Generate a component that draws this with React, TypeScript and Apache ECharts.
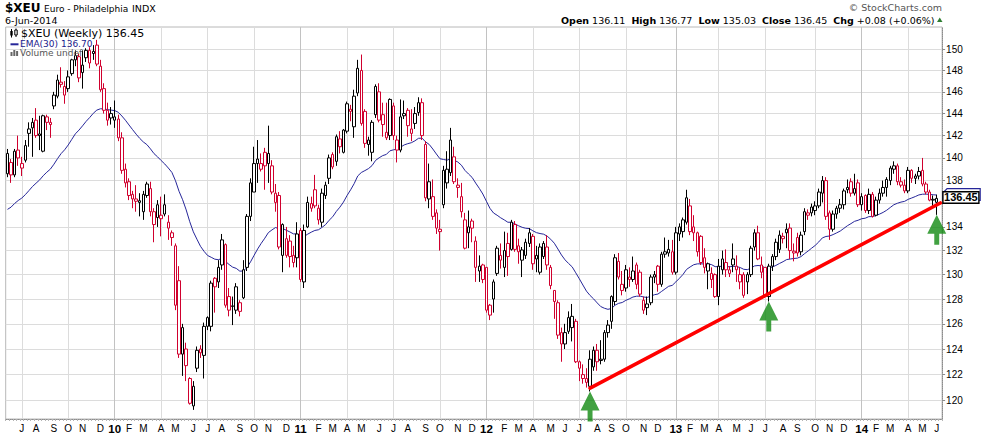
import React, { useEffect, useRef } from "react";
import * as echarts from "echarts";

// ---------- data ----------
const FIRST_WEEK = "2009-06-12"; // week-ending date of the first weekly bar
const symbolName = "$XEU";
const titleText = "Euro - Philadelphia";
const exchangeText = "INDX";

const opens = [
  138.6, 139.6, 138.5, 140.7, 139.1, 139.8, 142.6, 143.2, 143.4, 142.0,
  140.6, 143.7, 143.2, 144.7, 145.6, 146.7, 146.5, 146.3, 147.7, 149.0,
  149.3, 147.8, 149.9, 149.9, 149.8, 150.4, 148.4, 146.3, 144.3, 144.0,
  143.4, 143.5, 141.8, 139.0, 137.9, 136.8, 136.4, 136.1, 135.3, 136.7,
  137.3, 135.3, 134.8, 134.7, 135.9, 134.4, 133.5, 132.4, 129.5, 123.6,
  124.0, 121.7, 119.6, 122.5, 124.0, 123.5, 125.8, 125.8, 129.7, 129.4,
  130.8, 132.5, 128.2, 127.4, 127.1, 127.7, 128.1, 130.6, 134.9, 137.0,
  139.5, 139.0, 140.5, 139.5, 139.3, 136.1, 136.7, 131.6, 133.0, 132.8,
  131.6, 131.4, 133.7, 129.4, 134.0, 135.6, 137.2, 135.6, 134.4, 136.7,
  138.2, 140.3, 139.7, 141.7, 140.5, 142.4, 144.2, 142.8, 145.9, 148.0,
  144.2, 141.2, 140.5, 143.9, 146.0, 143.9, 142.3, 142.0, 144.7, 140.7,
  140.7, 143.8, 144.3, 142.2, 143.1, 144.1, 145.0, 141.2, 136.4, 136.6,
  135.2, 133.6, 135.9, 137.8, 138.7, 140.1, 137.6, 136.6, 134.6, 133.5,
  134.5, 132.8, 130.3, 130.8, 130.6, 127.5, 128.0, 130.1, 131.2, 130.6,
  132.6, 132.1, 134.2, 132.4, 131.2, 131.6, 132.6, 133.2, 131.6, 130.2,
  131.5, 132.3, 130.6, 128.7, 127.7, 125.3, 124.4, 125.4, 125.7, 126.2,
  123.0, 122.0, 121.7, 121.1, 122.6, 123.9, 123.2, 123.2, 125.3, 126.2,
  127.8, 131.1, 129.2, 128.9, 129.6, 129.6, 130.8, 130.2, 127.9, 127.3,
  127.7, 129.8, 130.7, 129.2, 131.7, 131.8, 131.9, 130.2, 133.4, 133.6,
  134.4, 135.8, 134.0, 133.5, 133.2, 131.4, 130.3, 129.6, 130.0, 128.2,
  130.4, 131.0, 130.4, 130.8, 130.7, 130.0, 130.0, 129.4, 130.0, 132.3,
  133.5, 130.8, 130.6, 128.2, 130.7, 131.5, 132.1, 133.0, 133.5, 133.9,
  131.8, 133.1, 131.9, 133.6, 135.0, 135.2, 135.4, 135.8, 136.9, 138.0,
  135.2, 133.8, 135.1, 135.6, 135.9, 137.2, 137.9, 136.9, 137.8, 135.9,
  136.7, 135.4, 136.8, 135.0, 136.3, 136.9, 137.4, 138.0, 139.0, 139.3,
  137.9, 137.6, 137.1, 138.9, 138.2, 138.4, 138.9, 137.7, 137.0, 136.3,
  136.11,
];

const highs = [
  140.8, 139.9, 140.8, 142.0, 140.1, 141.6, 143.2, 143.6, 144.5, 143.8,
  143.9, 143.9, 143.6, 146.0, 147.6, 148.3, 147.0, 148.0, 149.1, 149.9,
  149.6, 149.9, 150.1, 150.2, 150.4, 150.9, 149.0, 146.8, 145.0, 144.6,
  145.2, 143.9, 142.3, 139.5, 138.2, 137.1, 137.6, 136.9, 137.1, 137.9,
  137.9, 135.6, 136.3, 136.6, 136.8, 135.0, 133.7, 132.6, 130.7, 126.0,
  124.5, 121.8, 121.5, 124.2, 124.3, 126.1, 126.6, 129.5, 129.8, 131.2,
  133.4, 132.6, 128.9, 128.2, 129.3, 127.9, 131.2, 135.1, 138.2, 141.0,
  141.6, 140.4, 140.9, 142.9, 139.8, 137.7, 137.0, 134.3, 134.0, 133.3,
  132.4, 134.4, 133.9, 134.2, 136.6, 136.6, 138.5, 135.9, 137.3, 137.9,
  140.3, 140.5, 142.1, 142.4, 142.6, 145.1, 144.8, 146.2, 149.0, 149.5,
  144.4, 141.9, 143.4, 146.7, 146.8, 145.0, 145.0, 145.4, 145.0, 142.0,
  145.3, 145.2, 144.5, 144.4, 144.6, 145.5, 145.4, 141.5, 139.5, 138.1,
  135.5, 134.6, 139.3, 140.6, 142.7, 141.0, 138.2, 137.8, 135.2, 135.4,
  134.7, 133.2, 131.6, 130.9, 130.6, 127.6, 129.6, 132.4, 132.6, 133.6,
  133.5, 134.6, 134.5, 133.0, 132.3, 133.0, 133.9, 133.4, 132.4, 132.6,
  132.8, 133.3, 130.8, 128.7, 127.9, 125.7, 126.0, 127.0, 127.6, 126.4,
  123.1, 122.8, 122.5, 123.9, 124.2, 124.4, 124.7, 125.5, 126.3, 128.3,
  131.7, 131.8, 130.3, 130.8, 130.6, 131.5, 131.0, 130.4, 128.2, 128.2,
  130.0, 130.3, 130.8, 131.9, 133.1, 132.9, 132.9, 134.0, 134.3, 134.8,
  137.2, 136.4, 135.0, 133.6, 133.3, 132.2, 131.0, 130.6, 130.1, 131.3,
  132.0, 132.1, 130.7, 132.6, 131.6, 130.6, 130.2, 130.2, 132.4, 133.8,
  134.1, 131.5, 130.6, 130.9, 131.7, 133.0, 133.7, 133.5, 134.3, 134.3,
  132.6, 133.5, 133.6, 135.6, 135.5, 136.0, 136.2, 137.3, 138.4, 138.3,
  135.4, 135.4, 135.8, 136.4, 137.3, 138.1, 138.2, 138.6, 138.1, 136.9,
  136.8, 137.3, 137.0, 136.6, 137.3, 138.0, 138.3, 139.3, 139.7, 139.5,
  138.3, 138.1, 139.2, 139.0, 138.6, 139.2, 140.0, 137.9, 137.2, 136.7,
  136.77,
];

const lows = [
  138.3, 137.8, 138.3, 139.3, 138.4, 139.6, 141.0, 140.1, 141.8, 140.7,
  140.5, 142.5, 141.8, 144.4, 145.4, 146.4, 144.9, 146.0, 147.5, 148.4,
  146.9, 146.3, 148.8, 148.2, 149.0, 148.4, 146.0, 144.0, 142.9, 143.0,
  142.7, 141.5, 138.6, 137.4, 136.3, 135.6, 135.3, 134.9, 134.6, 136.5,
  134.9, 132.7, 134.0, 133.2, 134.9, 132.9, 132.4, 127.1, 123.3, 121.9,
  121.5, 119.7, 119.3, 122.2, 123.3, 121.7, 125.5, 125.4, 126.9, 128.9,
  130.4, 127.3, 126.6, 125.9, 126.8, 126.6, 128.0, 130.3, 134.5, 137.0,
  137.8, 138.8, 137.2, 137.8, 136.8, 135.3, 132.1, 130.2, 131.4, 130.6,
  130.6, 130.6, 129.4, 128.9, 133.9, 135.3, 135.6, 134.2, 134.0, 136.4,
  137.7, 139.0, 139.3, 140.4, 140.4, 142.2, 143.3, 141.8, 145.6, 142.9,
  140.9, 140.2, 139.7, 143.6, 143.2, 141.9, 141.6, 141.6, 141.6, 139.6,
  140.5, 143.5, 141.9, 141.5, 142.6, 143.8, 141.6, 136.2, 135.6, 134.6,
  133.4, 132.0, 135.6, 137.3, 138.4, 137.7, 136.5, 134.8, 132.1, 132.2,
  132.7, 129.4, 129.4, 129.3, 126.9, 126.3, 126.9, 129.9, 130.5, 129.8,
  129.9, 132.0, 131.9, 130.9, 129.8, 131.3, 132.3, 130.4, 130.2, 130.0,
  131.3, 130.4, 128.8, 126.4, 124.8, 123.0, 124.0, 125.2, 124.6, 122.9,
  121.5, 121.3, 121.0, 120.7, 122.3, 122.3, 122.8, 123.0, 124.9, 125.6,
  127.5, 129.6, 128.3, 128.6, 129.0, 129.4, 128.8, 128.2, 126.8, 126.7,
  127.5, 129.3, 128.6, 129.0, 131.4, 131.5, 130.0, 130.0, 132.8, 133.1,
  134.2, 133.3, 132.8, 131.5, 130.8, 130.1, 128.8, 128.9, 128.1, 127.5,
  130.0, 129.8, 129.8, 130.2, 129.4, 128.8, 128.1, 128.4, 129.8, 132.0,
  131.2, 129.7, 128.1, 127.8, 130.3, 131.2, 131.8, 132.6, 132.2, 131.3,
  131.1, 131.5, 131.6, 133.3, 134.6, 134.9, 135.0, 135.6, 136.1, 134.6,
  132.9, 133.6, 134.7, 135.2, 135.5, 136.9, 136.6, 136.7, 135.7, 135.4,
  135.2, 135.1, 134.8, 134.9, 136.0, 136.6, 136.6, 137.6, 138.6, 137.6,
  137.4, 136.9, 136.9, 137.8, 137.7, 138.1, 137.5, 136.8, 136.2, 135.8,
  135.03,
];

const closes = [
  140.4, 138.5, 140.6, 140.0, 139.5, 141.1, 142.2, 142.7, 142.0, 142.15,
  143.8, 143.2, 143.0, 145.7, 147.1, 146.9, 145.7, 147.4, 149.0, 149.4,
  147.3, 148.5, 149.2, 148.7, 149.6, 148.6, 146.2, 144.3, 143.4, 143.6,
  143.7, 141.8, 138.9, 137.8, 136.7, 136.4, 136.2, 136.25, 136.8, 137.7,
  135.3, 134.2, 135.9, 135.0, 135.1, 133.9, 133.1, 127.5, 123.6, 125.7,
  122.7, 119.8, 121.1, 123.9, 123.7, 125.8, 126.5, 129.3, 129.0, 130.6,
  132.9, 127.5, 127.1, 127.45, 129.0, 127.0, 130.4, 134.9, 137.8, 139.5,
  139.9, 139.5, 139.3, 140.4, 137.0, 136.9, 132.3, 134.2, 131.6, 131.5,
  131.0, 133.4, 129.6, 133.7, 136.1, 136.0, 135.8, 134.6, 136.9, 137.6,
  140.0, 139.2, 141.9, 141.0, 142.5, 144.9, 144.4, 145.6, 148.2, 143.1,
  141.3, 141.6, 143.2, 146.5, 143.4, 143.0, 141.8, 145.3, 142.0, 141.6,
  143.7, 144.0, 142.9, 142.6, 144.0, 145.0, 142.0, 136.5, 137.9, 134.9,
  133.9, 133.8, 138.9, 139.0, 141.6, 137.9, 137.4, 135.3, 132.2, 134.0,
  133.9, 130.6, 130.7, 129.6, 127.1, 126.7, 129.4, 132.2, 131.6, 132.0,
  131.5, 134.4, 132.1, 131.9, 132.05, 132.7, 133.5, 130.9, 131.3, 132.3,
  132.6, 130.8, 129.1, 127.8, 125.1, 124.4, 125.3, 126.5, 126.6, 123.0,
  122.5, 121.7, 121.4, 123.2, 123.9, 123.0, 123.1, 125.3, 125.9, 128.2,
  131.4, 129.8, 128.7, 130.4, 129.8, 130.3, 129.2, 128.4, 127.1, 127.6,
  129.8, 130.0, 129.2, 131.7, 131.9, 132.1, 130.2, 133.5, 134.0, 134.6,
  136.5, 133.6, 133.5, 131.9, 131.0, 130.6, 130.9, 130.1, 128.2, 130.7,
  131.3, 130.4, 130.1, 131.3, 130.4, 129.4, 128.3, 130.0, 132.2, 133.5,
  131.3, 130.2, 128.2, 130.7, 131.5, 132.7, 133.3, 133.2, 133.8, 132.0,
  131.95, 131.8, 133.3, 135.3, 135.2, 135.7, 135.8, 137.0, 138.0, 134.9,
  133.8, 135.1, 135.6, 135.9, 137.1, 137.4, 136.9, 137.3, 135.9, 136.6,
  135.4, 136.8, 134.9, 136.3, 136.9, 137.4, 138.1, 139.1, 139.3, 137.9,
  137.6, 137.1, 138.9, 138.2, 138.4, 138.8, 137.7, 137.0, 136.3, 136.37,
  136.45,
];

const yTickValues = [120, 122, 124, 126, 128, 130, 132, 134, 136, 138, 140, 142, 144, 146, 148, 150];
const yRange = [118.61, 152.14];
const monthInitials = ["J", "F", "M", "A", "M", "J", "J", "A", "S", "O", "N", "D"];
const monthShort = ["Jan", "Feb", "Mar", "Apr", "May", "Jun", "Jul", "Aug", "Sep", "Oct", "Nov", "Dec"];
const emaPeriod = 30;
const emaFirstValue = 135.5; // EMA level read at the first bar
const emaLegendValue = "136.70";
const trendStart = { index: 163, value: 120.96 };
const trendEnd = { index: 261, value: 136.05 };
const arrowWeeks = [163, 213, 260];

// ---------- styles ----------
const RED = "#d0002e";
const BLACK = "#000000";
const NAVY = "#262699";
const GREEN = "#118a11";
const DEJAVU = '"DejaVu Sans", Verdana, sans-serif';
const LIB = '"Liberation Sans", Arial, sans-serif';
const W = 981;
const H = 435;
const GRID = { left: 5.7, top: 27, width: 936.4, height: 392 };
const ARROW_PATH = "path://M10,0 L20,19 L12.6,19 L12.6,30 L7.4,30 L7.4,19 L0,19 Z";

// ---------- derived ----------
const L = Math.log;
const DAY = 86400000;
const N = closes.length;
const firstMs = Date.parse(FIRST_WEEK + "T00:00:00Z");
const weekDates = closes.map((_, i) => new Date(firstMs + i * 7 * DAY));
const categories = [...weekDates.map((d) => d.toISOString().slice(0, 10)), ""];

// month of the week's Monday (labels/grid at first week starting in a new month)
const monthOf = (i: number) => {
  const d = new Date(weekDates[i].getTime() - 4 * DAY);
  return d.getUTCFullYear() * 12 + d.getUTCMonth();
};
const isMonthStart = (i: number) => i > 0 && i < N && monthOf(i) !== monthOf(i - 1);
const isQuarterStart = (i: number) => isMonthStart(i) && monthOf(i) % 3 === 0;
const isYearStart = (i: number) => isMonthStart(i) && monthOf(i) % 12 === 0;

const emaValues: number[] = [];
const k = 2 / (emaPeriod + 1);
closes.forEach((c, i) => {
  emaValues.push(i === 0 ? emaFirstValue : emaValues[i - 1] + k * (c - emaValues[i - 1]));
});

const candleData = closes.map((c, i) => {
  const o = opens[i];
  const hi = Math.max(highs[i], o, c);
  const lo = Math.min(lows[i], o, c);
  const key = i > 0 && c < closes[i - 1] ? RED : BLACK;
  return {
    value: [L(o), L(c), L(lo), L(hi)],
    itemStyle: { color: "#ffffff", color0: key, borderColor: key, borderColor0: key },
  };
});

function App() {
  const ref = useRef<HTMLDivElement>(null);

  useEffect(() => {
    if (!ref.current) return;
    const chart = echarts.init(ref.current, undefined, { renderer: "svg" });

    const xLabelFormatter = (_v: string, index: number) => {
      const mk = monthOf(index);
      if (mk % 12 === 0) return `{yr|${String(Math.floor(mk / 12)).slice(2)}}`;
      return monthInitials[mk % 12];
    };

    const option: any = {
      animation: false,
      backgroundColor: "#ffffff",
      grid: {
        ...GRID,
        show: true,
        borderColor: "#b8b8b8",
        borderWidth: 1,
        backgroundColor: "transparent",
        containLabel: false,
        outerBoundsMode: "none",
      },
      xAxis: [
        {
          type: "category",
          data: categories,
          position: "bottom",
          boundaryGap: true,
          axisLine: { show: true, lineStyle: { color: "#8c8c8c", width: 1, type: "dotted" } },
          axisTick: { show: true, interval: 0, length: 2, lineStyle: { color: "#b4b4b4", width: 1 } },
          axisLabel: {
            interval: (i: number) => isMonthStart(i),
            formatter: xLabelFormatter,
            color: "#000",
            fontFamily: LIB,
            fontSize: 10,
            margin: 4,
            rich: { yr: { fontFamily: LIB, fontSize: 11.5, fontWeight: "bold", color: "#000" } },
          },
          splitLine: {
            show: true,
            interval: (i: number) => isQuarterStart(i),
            alignWithLabel: true,
            lineStyle: { color: "#dcdcdc", width: 1 },
          },
        },
        {
          type: "category",
          data: categories,
          position: "bottom",
          boundaryGap: true,
          axisLine: { show: false },
          axisTick: { show: false },
          axisLabel: { show: false },
          splitLine: {
            show: true,
            interval: (i: number) => isYearStart(i),
            alignWithLabel: true,
            lineStyle: { color: "#c2c2c2", width: 1 },
          },
        },
      ],
      yAxis: [
        {
          type: "value",
          position: "right",
          min: L(yRange[0]),
          max: L(yRange[1]),
          axisLine: { show: true, lineStyle: { color: "#8c8c8c", width: 1, type: "dotted" } },
          axisTick: {
            show: true,
            customValues: yTickValues.map(L),
            length: 3,
            lineStyle: { color: "#8c8c8c" },
          },
          axisLabel: {
            customValues: yTickValues.map(L),
            formatter: (v: number) => String(Math.round(Math.exp(v))),
            color: "#000",
            fontFamily: LIB,
            fontSize: 10,
            margin: 4,
          },
          splitLine: { show: true, lineStyle: { color: "#dcdcdc", width: 1 } },
        },
      ],
      series: [
        {
          type: "line",
          name: "EMA(30)",
          data: emaValues.map(L),
          symbol: "none",
          lineStyle: { color: NAVY, width: 1 },
          z: 2,
          silent: true,
        },
        {
          type: "candlestick",
          name: symbolName,
          data: candleData,
          barWidth: 3,
          itemStyle: { borderWidth: 1 },
          z: 3,
          silent: true,
        },
        {
          type: "line",
          name: "trend",
          data: [
            [trendStart.index, L(trendStart.value)],
            [trendEnd.index, L(trendEnd.value)],
          ],
          symbol: "none",
          lineStyle: { color: "#ff0000", width: 3.6, cap: "round" },
          z: 4,
          silent: true,
        },
        {
          type: "scatter",
          name: "arrows",
          data: arrowWeeks.map((i) => [i, L(lows[i])]),
          symbol: ARROW_PATH,
          symbolSize: [19, 30],
          symbolOffset: [0, 15],
          itemStyle: { color: GREEN },
          clip: false,
          z: 5,
          silent: true,
        },
      ],
    };

    chart.setOption(option);

    const last = N - 1;
    const py = chart.convertToPixel({ yAxisIndex: 0 }, L(closes[last])) as number;
    const xr = GRID.left + GRID.width;

    // axis labels hidden behind the price tag are not drawn (as in the reference)
    const visibleLabels = yTickValues.filter((v) => {
      const y = chart.convertToPixel({ yAxisIndex: 0 }, L(v)) as number;
      return Math.abs(y - py) > 9;
    });

    const lastDate = weekDates[last];
    const dateText = `${lastDate.getUTCDate()}-${monthShort[lastDate.getUTCMonth()]}-${lastDate.getUTCFullYear()}`;
    const chg = closes[last] - closes[last - 1];
    const chgPct = (chg / closes[last - 1]) * 100;
    const sign = chg >= 0 ? "+" : "-";
    const ohlcText =
      `{b|Open} ${opens[last].toFixed(2)}  {b|High} ${highs[last].toFixed(2)}  ` +
      `{b|Low} ${lows[last].toFixed(2)}  {b|Close} ${closes[last].toFixed(2)}  ` +
      `{b|Chg} ${sign}${Math.abs(chg).toFixed(2)} (${sign}${Math.abs(chgPct).toFixed(2)}%)`;

    const txt = (x: number, y: number, text: string, font: string, fill: string, align = "left", extra: any = {}) => ({
      type: "text",
      x,
      y,
      silent: true,
      z: 100,
      style: {
        text,
        font,
        fill,
        align,
        verticalAlign: "middle",
        textAlign: align,
        textVerticalAlign: "middle",
        ...extra,
      },
    });

    const graphics: any[] = [
      // header
      txt(5, 8, symbolName, `bold 12px ${DEJAVU}`, "#000"),
      txt(44, 8.5, titleText, `9px ${DEJAVU}`, "#000"),
      txt(132, 8.5, exchangeText, `9.5px ${DEJAVU}`, "#000"),
      txt(5, 20, dateText, `9.5px ${DEJAVU}`, "#000"),
      txt(942, 7, "\u00a9 StockCharts.com", `9.5px ${DEJAVU}`, "#555", "right"),
      txt(934.5, 20, ohlcText, `9.5px ${DEJAVU}`, "#000", "right", {
        rich: { b: { font: `bold 9.5px ${DEJAVU}`, fill: "#000" } },
      }),
      {
        type: "polygon",
        silent: true,
        z: 100,
        shape: { points: [[937, 22], [942.5, 22], [939.75, 17.5]] },
        style: { fill: "#2e7d32" },
      },
      // legend: candle icon
      { type: "line", silent: true, z: 100, shape: { x1: 11.5, y1: 29, x2: 11.5, y2: 37.5 }, style: { stroke: "#000", lineWidth: 1 } },
      { type: "rect", silent: true, z: 101, shape: { x: 10.3, y: 31, width: 2.4, height: 4.5 }, style: { fill: "#000" } },
      { type: "line", silent: true, z: 100, shape: { x1: 16, y1: 28.5, x2: 16, y2: 37 }, style: { stroke: "#000", lineWidth: 1 } },
      { type: "rect", silent: true, z: 101, shape: { x: 14.8, y: 30, width: 2.4, height: 5 }, style: { fill: "#fff", stroke: "#000", lineWidth: 1 } },
      txt(21, 33, `${symbolName} (Weekly) ${closes[last].toFixed(2)}`, `11px ${DEJAVU}`, "#000"),
      // legend: EMA
      { type: "line", silent: true, z: 100, shape: { x1: 10.5, y1: 44.3, x2: 18.5, y2: 44.3 }, style: { stroke: NAVY, lineWidth: 2 } },
      txt(20, 44, `EMA(${emaPeriod}) ${emaLegendValue}`, `9px ${DEJAVU}`, "#1a1a8c"),
      // legend: volume
      { type: "rect", silent: true, z: 100, shape: { x: 10.5, y: 52, width: 2, height: 4 }, style: { fill: "#666" } },
      { type: "rect", silent: true, z: 100, shape: { x: 13.3, y: 50, width: 2, height: 6 }, style: { fill: "#666" } },
      { type: "rect", silent: true, z: 100, shape: { x: 16.1, y: 51, width: 2, height: 5 }, style: { fill: "#666" } },
      txt(20, 53, "Volume undef", `9px ${DEJAVU}`, "#555"),
      // EMA value tag (mostly hidden behind the price tag)
      {
        type: "polygon",
        silent: true,
        z: 110,
        shape: { points: [[xr + 0.8, py - 5.5], [xr + 5, py - 9.8], [W - 0.8, py - 9.8], [W - 0.8, py + 2], [xr + 0.8, py + 2]] },
        style: { fill: "#fff", stroke: NAVY, lineWidth: 1.2 },
      },
      // price tag
      {
        type: "rect",
        silent: true,
        z: 120,
        shape: { x: xr + 0.8, y: py - 6.7, width: 36, height: 11.6 },
        style: { fill: "#fff", stroke: "#000", lineWidth: 1.4 },
      },
      {
        type: "text",
        x: xr + 18.8,
        y: py - 0.9,
        silent: true,
        z: 121,
        style: {
          text: closes[last].toFixed(2),
          font: `bold 11px ${LIB}`,
          fill: "#000",
          align: "center",
          verticalAlign: "middle",
          textAlign: "center",
          textVerticalAlign: "middle",
        },
      },
    ];

    chart.setOption({
      yAxis: [{ axisLabel: { customValues: visibleLabels.map(L) } }],
      graphic: graphics,
    });

    return () => {
      chart.dispose();
    };
  }, []);

  return (
    <div
      ref={ref}
      style={{ position: "absolute", left: 0, top: 0, width: W, height: H, background: "#fff" }}
    />
  );
}

export default App;
